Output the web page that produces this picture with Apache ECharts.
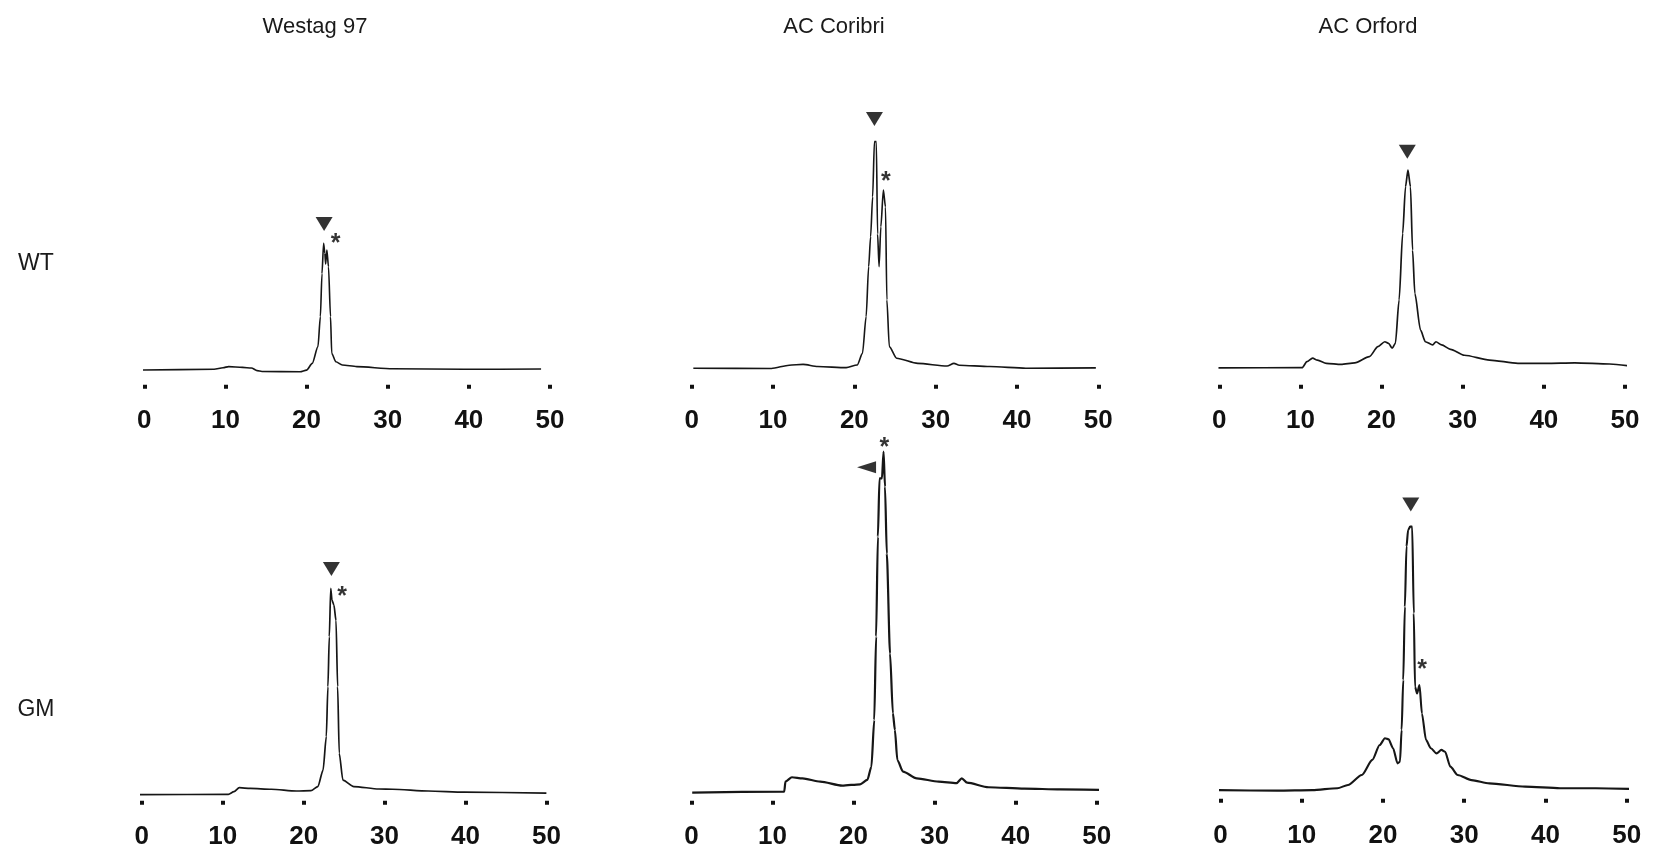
<!DOCTYPE html>
<html><head><meta charset="utf-8">
<script src="https://cdn.jsdelivr.net/npm/echarts@6/dist/echarts.min.js"></script>
<style>html,body{margin:0;padding:0;background:#fff}#c{width:1655px;height:850px}</style>
</head><body><div id="c"></div>
<script>
// ---------- data (elution time in min vs relative absorbance) ----------
const columnTitles = ['Westag 97', 'AC Coribri', 'AC Orford'];
const rowLabels = ['WT', 'GM'];
const tickValues = [0, 10, 20, 30, 40, 50];

const westagWT = [[-0.7,0.7],[8.6,1.0],[9.7,1.6],[10.4,2.0],[12.1,1.7],[13.2,1.5],[13.9,0.5],[14.5,0.2],[19.2,0.1],[20.0,0.7],[20.7,3.2],[21.4,9.4],[21.7,20.5],[21.9,36.5],[22.1,47.7],[22.25,44],[22.35,40],[22.5,45.2],[22.7,39],[22.95,20.5],[23.1,6.9],[23.6,3.8],[24.4,2.6],[26.2,2.0],[30.6,1.2],[39.4,1.0],[48.9,1.1]];
const coribriWT = [[0.2,0.3],[9.8,0.2],[12.0,1.4],[13.7,1.7],[15.5,0.9],[19.0,0.5],[20.35,1.5],[21.0,5.8],[21.45,19.4],[21.76,37.9],[22.0,49],[22.25,63.8],[22.47,84.2],[22.7,84.2],[22.86,50],[23.04,37.9],[23.26,52.7],[23.57,66.3],[23.83,60],[24.0,25.6],[24.3,8.3],[25.2,4.0],[27.8,2.1],[31.4,1.1],[32.25,2.1],[32.9,1.4],[36.65,0.9],[41.1,0.3],[49.7,0.4]];
const orfordWT = [[-0.1,0.4],[10.2,0.5],[10.8,2.7],[11.5,4.0],[12.1,3.3],[13.2,2.1],[15.0,1.7],[16.7,2.3],[18.5,4.6],[19.55,8.3],[20.4,10.1],[20.86,9.5],[21.3,7.7],[21.7,9.5],[22.16,25.6],[22.6,50.2],[22.95,67.5],[23.25,73.7],[23.56,67.5],[23.82,44],[24.1,28],[24.8,14.4],[25.4,10.1],[26.3,8.9],[26.7,10.1],[27.4,8.9],[28.5,7.3],[30.2,5.1],[33.3,3.3],[36.8,2.1],[40.3,2.1],[43.8,2.3],[48.1,1.85],[51.8,0.6]];
const westagGM = [[-0.4,0.5],[10.7,0.6],[11.4,1.6],[12.05,3.1],[13.4,2.8],[16.0,2.5],[19.1,1.85],[20.9,2.0],[21.76,3.5],[22.4,9.6],[22.8,22],[23.0,40.5],[23.17,59],[23.35,76.9],[23.5,72.6],[23.74,70.7],[24.0,65],[24.2,40.5],[24.4,15.8],[24.85,5.9],[26.2,3.5],[29.3,2.6],[31.0,2.5],[35.4,1.85],[39.85,1.4],[50.0,1.1]];
const coribriGM = [[0.1,0.5],[11.45,0.9],[11.6,4.6],[12.4,6.2],[13.7,5.8],[15.9,4.6],[18.6,3.1],[20.8,3.6],[21.7,5.2],[22.2,10.1],[22.55,27.4],[22.78,58.3],[23.0,95.3],[23.2,116.9],[23.5,116.9],[23.7,126.8],[23.88,113.8],[24.1,89],[24.5,52],[24.85,29.9],[25.1,23.7],[25.4,12.6],[26.1,8.3],[27.8,5.8],[30.5,4.6],[32.7,4.0],[33.35,5.8],[34.0,4.2],[36.65,2.5],[41.06,2.0],[45.5,1.7],[51.85,1.5]];
const orfordGM = [[-0.2,0.7],[7.0,0.5],[11.3,0.7],[14.4,1.4],[15.7,2.6],[17.4,6.3],[18.7,11.9],[19.6,17.4],[20.25,19.9],[20.7,19.5],[21.25,16.2],[21.8,10.6],[22.1,11.2],[22.3,23],[22.5,41.5],[22.7,68.6],[22.9,90.9],[23.1,97],[23.35,98.3],[23.6,98.3],[23.8,66.2],[23.95,39],[24.2,36.5],[24.5,39.6],[24.8,29.1],[25.3,19.3],[25.9,16.2],[26.6,14.3],[27.2,15.6],[27.65,14.9],[28.3,9.4],[29.2,6.3],[30.9,4.4],[33.1,3.2],[37.5,2.0],[41.8,1.4],[46.2,1.4],[52.3,1.0]];

// peak annotations: [panel, time, level]
const triangleMarks = [[0,22.16,54.8,'down'],[1,22.47,92.6,'down'],[2,23.17,80.5,'down'],[3,23.43,84.1,'down'],[4,21.6,121,'left'],[5,23.43,106.5,'down']];
const asteriskMarks = [[0,23.57,49.1],[1,23.88,71.2],[3,24.76,75.7],[4,23.8,129.9],[5,24.83,47]];

const panelData = [westagWT, coribriWT, orfordWT, westagGM, coribriGM, orfordGM];

// ---------- layout ----------
// b: pixel row of the zero level of the trace, tick: centre row of the tick squares, lab: top of tick labels
const layout = [
  {l:144.3, r:550.0, b:372, tick:386.7, lab:408, w:1.6},
  {l:691.7, r:1098.3, b:369, tick:386.7, lab:408, w:1.6},
  {l:1219.3, r:1625.0, b:369, tick:386.7, lab:408, w:1.7},
  {l:141.8, r:546.4, b:796, tick:802.7, lab:824, w:1.7},
  {l:691.4, r:1096.8, b:794, tick:802.7, lab:824, w:2.2},
  {l:1220.4, r:1626.7, b:792, tick:800.7, lab:823, w:2.1}
];
const PX = 2.7;      // pixels per unit
const SPAN = 100;    // units shown per grid
const grids = [], xAxes = [], yAxes = [], series = [];
layout.forEach((p, i) => {
  const tickTop = p.tick - 2;
  const yMin = -(tickTop - p.b) / PX;
  grids.push({left: p.l, top: tickTop - SPAN * PX, width: p.r - p.l, height: SPAN * PX,
    outerBoundsMode: 'none', containLabel: false});
  xAxes.push({
    type: 'value', gridIndex: i, min: tickValues[0], max: tickValues[tickValues.length - 1], interval: 10,
    position: 'bottom',
    axisLine: {show: false, onZero: false}, splitLine: {show: false},
    axisTick: {show: true, length: 4, inside: false, lineStyle: {width: 4, color: '#111'}},
    axisLabel: {show: true, margin: p.lab - tickTop, fontSize: 26, fontWeight: 'bold',
      fontFamily: 'Liberation Sans', color: '#111', hideOverlap: false}
  });
  yAxes.push({type: 'value', gridIndex: i, min: yMin, max: yMin + SPAN, show: false});
  series.push({
    type: 'line', xAxisIndex: i, yAxisIndex: i, data: panelData[i], showSymbol: false, symbol: 'none',
    clip: false, smooth: 0.25, smoothMonotone: 'x',
    lineStyle: {color: '#161616', width: p.w}, silent: true, animation: false
  });
  const tri = triangleMarks.filter(t => t[0] === i);
  if (tri.length) series.push({
    type: 'scatter', xAxisIndex: i, yAxisIndex: i, clip: false, animation: false, silent: true,
    data: tri.map(t => [t[1], t[2]]),
    symbol: 'triangle',
    symbolSize: tri[0][3] === 'left' ? [12, 19] : [17, 14],
    symbolRotate: tri[0][3] === 'left' ? 90 : 180,
    itemStyle: {color: '#000'}
  });
  const ast = asteriskMarks.filter(t => t[0] === i);
  if (ast.length) series.push({
    type: 'scatter', xAxisIndex: i, yAxisIndex: i, clip: false, animation: false, silent: true,
    data: ast.map(t => [t[1], t[2]]), symbolSize: 1, itemStyle: {color: 'rgba(0,0,0,0)'},
    label: {show: true, position: 'inside', formatter: '*', fontSize: 25, fontWeight: 'bold',
      fontFamily: 'Liberation Sans', color: '#000', offset: [0, 5]}
  });
});

const colCenters = [315, 834, 1368];
const textStyleBase = {fill: '#1a1a1a', fontFamily: 'Liberation Sans', fontSize: 22, textAlign: 'center', textVerticalAlign: 'middle'};
const graphics = [];
columnTitles.forEach((t, i) => graphics.push({type: 'text', x: colCenters[i], y: 27, style: Object.assign({text: t}, textStyleBase)}));
const rowY = [264, 710];
rowLabels.forEach((t, i) => graphics.push({type: 'text', x: 36, y: rowY[i], style: Object.assign({text: t}, textStyleBase, {fontSize: 23})}));

const chart = echarts.init(document.getElementById('c'), null, {renderer: 'canvas'});
chart.setOption({
  backgroundColor: '#fff', animation: false,
  grid: grids, xAxis: xAxes, yAxis: yAxes, series: series, graphic: graphics
});
</script></body></html>
